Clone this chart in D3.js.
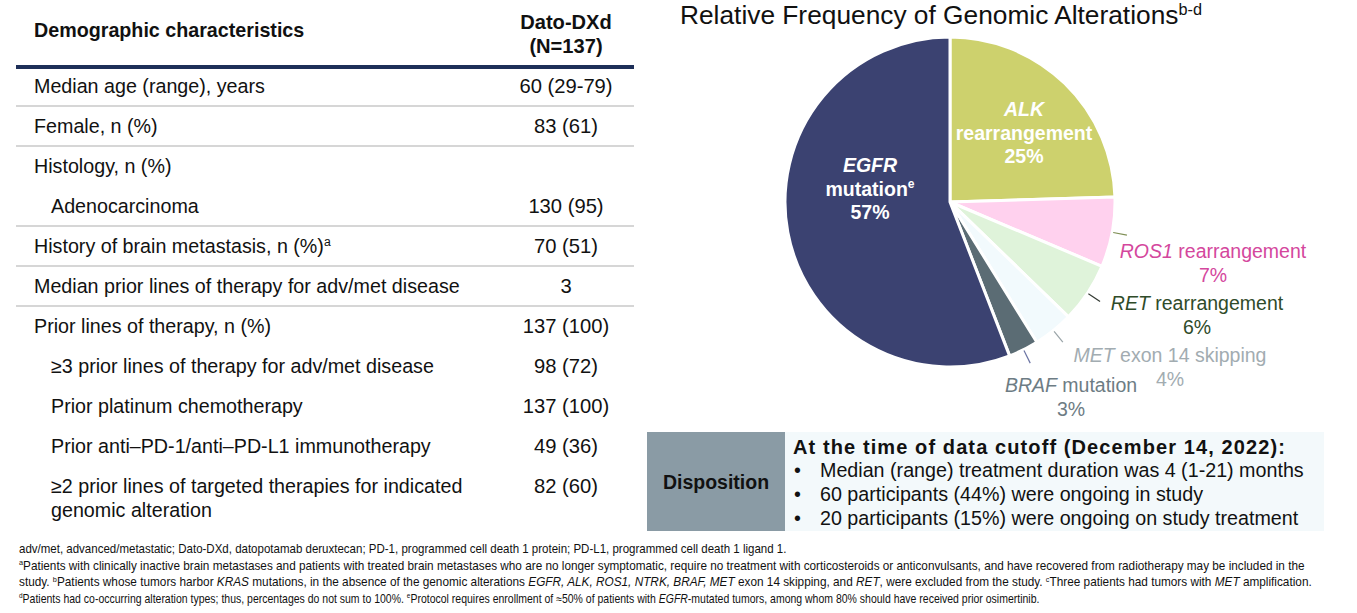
<!DOCTYPE html>
<html><head><meta charset="utf-8">
<script src="https://cdn.jsdelivr.net/npm/d3@7"></script>
<style>
body{margin:0;background:#fff;}
svg{display:block;font-family:"Liberation Sans",Arial,sans-serif;}
</style>
</head><body>
<svg id="c" width="1357" height="613"></svg>
<script>
// ---------- DATA ----------
const tableHeaderLabel = "Demographic characteristics";
const tableHeaderArm = ["Dato-DXd", "(N=137)"];
const rowLabels = [
  "Median age (range), years",
  "Female, n (%)",
  "Histology, n (%)",
  "Adenocarcinoma",
  "History of brain metastasis, n (%)^a^",
  "Median prior lines of therapy for adv/met disease",
  "Prior lines of therapy, n (%)",
  "≥3 prior lines of therapy for adv/met disease",
  "Prior platinum chemotherapy",
  "Prior anti–PD-1/anti–PD-L1 immunotherapy",
  "≥2 prior lines of targeted therapies for indicated|genomic alteration"
];
const rowValues = ["60 (29-79)", "83 (61)", "", "130 (95)", "70 (51)", "3", "137 (100)", "98 (72)", "137 (100)", "49 (36)", "82 (60)"];
const rowIndent = [0, 0, 0, 1, 0, 0, 0, 1, 1, 1, 1];
const rowRuleBelow = [1, 1, 0, 1, 1, 1, 0, 0, 0, 0, 0];

const pieTitle = "Relative Frequency of Genomic Alterations^b-d^";
const pieGenes = ["ALK", "ROS1", "RET", "MET", "BRAF", "EGFR"];
const pieDesc = ["rearrangement", "rearrangement", "rearrangement", "exon 14 skipping", "mutation", "mutation^e^"];
const pieValues = [25, 7, 6, 4, 3, 57];
const pieColors = ["#cdd16d", "#ffd1ee", "#dff3da", "#f2fafd", "#5b6c74", "#3b4271"];

const dispositionLabel = "Disposition";
const dispositionHeading = "At the time of data cutoff (December 14, 2022):";
const dispositionBullets = [
  "Median (range) treatment duration was 4 (1-21) months",
  "60 participants (44%) were ongoing in study",
  "20 participants (15%) were ongoing on study treatment"
];

const footnotes = [
  "adv/met, advanced/metastatic; Dato-DXd, datopotamab deruxtecan; PD-1, programmed cell death 1 protein; PD-L1, programmed cell death 1 ligand 1.",
  "^a^Patients with clinically inactive brain metastases and patients with treated brain metastases who are no longer symptomatic, require no treatment with corticosteroids or anticonvulsants, and have recovered from radiotherapy may be included in the",
  "study. ^b^Patients whose tumors harbor *KRAS* mutations, in the absence of the genomic alterations *EGFR, ALK, ROS1, NTRK, BRAF, MET* exon 14 skipping, and *RET*, were excluded from the study. ^c^Three patients had tumors with *MET* amplification.",
  "^d^Patients had co-occurring alteration types; thus, percentages do not sum to 100%. ^e^Protocol requires enrollment of ≈50% of patients with *EGFR*-mutated tumors, among whom 80% should have received prior osimertinib."
];

// ---------- LAYOUT ----------
const svg = d3.select("#c");

function rich(textSel, str, fs) {
  const parts = str.split(/(\*[^*]+\*|\^[^^]+\^)/).filter(s => s.length);
  let shifted = false;
  parts.forEach(p => {
    const t = textSel.append("tspan");
    if (p[0] === "^") {
      t.text(p.slice(1, -1)).attr("font-size", fs * 0.62).attr("dy", -fs * 0.36);
      shifted = true;
    } else {
      if (p[0] === "*") { t.text(p.slice(1, -1)).attr("font-style", "italic"); }
      else t.text(p);
      if (shifted) { t.attr("dy", fs * 0.36); shifted = false; }
    }
  });
  return textSel;
}

// ---- Table ----
const tbl = svg.append("g");
const tx0 = 16, tx1 = 634, labelX = 34, indentX = 51, valX = 566, fsT = 19.7;
tbl.append("text").attr("x", labelX).attr("y", 37).attr("font-size", fsT).attr("font-weight", "bold").attr("fill", "#111").text(tableHeaderLabel);
tableHeaderArm.forEach((s, i) => tbl.append("text").attr("x", valX).attr("y", 29 + i * 24).attr("text-anchor", "middle")
  .attr("font-size", fsT + 0.4).attr("font-weight", "bold").attr("fill", "#111").text(s));
tbl.append("line").attr("x1", tx0).attr("x2", tx1).attr("y1", 67).attr("y2", 67).attr("stroke", "#1d2f58").attr("stroke-width", 4);

const yRow = d3.scalePoint().domain(d3.range(rowLabels.length)).range([86, 486]);
rowLabels.forEach((lab, i) => {
  const cy = yRow(i);
  const lines = lab.split("|");
  lines.forEach((ln, k) => {
    const t = tbl.append("text").attr("x", rowIndent[i] ? indentX : labelX).attr("y", cy + 7 + k * 24)
      .attr("font-size", fsT).attr("fill", "#111");
    rich(t, ln, fsT);
  });
  if (rowValues[i]) tbl.append("text").attr("x", valX).attr("y", cy + 7).attr("text-anchor", "middle")
    .attr("font-size", fsT + 0.5).attr("fill", "#111").text(rowValues[i]);
  if (rowRuleBelow[i]) tbl.append("line").attr("x1", tx0).attr("x2", tx1).attr("y1", cy + 20).attr("y2", cy + 20)
    .attr("stroke", "#c9c9c9").attr("stroke-width", 1.5);
});

// ---- Pie ----
const ttl = svg.append("text").attr("x", 680).attr("y", 24).attr("font-size", 26.3).attr("fill", "#111");
rich(ttl, pieTitle, 26.3);

const cx = 950, cy = 202, R = 165;
const pie = d3.pie().sort(null).value(d => d).startAngle(0).endAngle(2 * Math.PI);
const arcs = pie(pieValues);
const arc = d3.arc().innerRadius(0).outerRadius(R);
const pg = svg.append("g").attr("transform", `translate(${cx},${cy})`);
pg.selectAll("path").data(arcs).join("path").attr("d", arc)
  .attr("fill", (d, i) => pieColors[i]).attr("stroke", "#fff").attr("stroke-width", 3).attr("stroke-linejoin", "round");

// inside labels (ALK, EGFR)
const insideIdx = [0, 5];
const insideOffset = {0: [74, -86], 5: [-80, -30]};
insideIdx.forEach(i => {
  const [dx, dy] = insideOffset[i];
  const lines = [`*${pieGenes[i]}*`, pieDesc[i], `${pieValues[i]}%`];
  lines.forEach((ln, k) => {
    const t = pg.append("text").attr("x", dx).attr("y", dy + k * 23.5).attr("text-anchor", "middle")
      .attr("font-size", 19.5).attr("font-weight", "bold").attr("fill", "#fff");
    rich(t, ln, 19.5);
  });
});

// outside labels
const outsideIdx = [1, 2, 3, 4];
const outColors = {1: "#d4479d", 2: "#2f4b29", 3: "#a2acb1", 4: "#6d7c84"};
const lineColors = {1: "#7f8f55", 2: "#333a33", 3: "#9aa4a8", 4: "#6a73a3"};
const outOffset = {1: [263, 56], 2: [247, 108], 3: [220, 160], 4: [121, 190]};
outsideIdx.forEach(i => {
  const a = (arcs[i].startAngle + arcs[i].endAngle) / 2;
  const p0 = [Math.sin(a) * (R + 1), -Math.cos(a) * (R + 1)];
  const p1 = [Math.sin(a) * (R + 15), -Math.cos(a) * (R + 15)];
  pg.append("line").attr("x1", p0[0]).attr("y1", p0[1]).attr("x2", p1[0]).attr("y2", p1[1])
    .attr("stroke", lineColors[i]).attr("stroke-width", 1.2);
  const [dx, dy] = outOffset[i];
  const t1 = pg.append("text").attr("x", dx).attr("y", dy).attr("text-anchor", "middle").attr("font-size", 19.5).attr("fill", outColors[i]);
  rich(t1, `*${pieGenes[i]}* ${pieDesc[i]}`, 19.5);
  pg.append("text").attr("x", dx).attr("y", dy + 24).attr("text-anchor", "middle").attr("font-size", 19.5).attr("fill", outColors[i]).text(`${pieValues[i]}%`);
});

// ---- Disposition ----
const dg = svg.append("g");
dg.append("rect").attr("x", 647).attr("y", 432).attr("width", 138).attr("height", 99).attr("fill", "#8a9ba5");
dg.append("rect").attr("x", 785).attr("y", 432).attr("width", 539).attr("height", 99).attr("fill", "#f3f9fb");
dg.append("text").attr("x", 716).attr("y", 489).attr("text-anchor", "middle").attr("font-size", 19.5).attr("font-weight", "bold").attr("fill", "#111").text(dispositionLabel);
dg.append("text").attr("x", 793).attr("y", 454).attr("font-size", 20).attr("letter-spacing", 1.1).attr("font-weight", "bold").attr("fill", "#111").text(dispositionHeading);
dispositionBullets.forEach((b, k) => {
  dg.append("text").attr("x", 794).attr("y", 477 + k * 24).attr("font-size", 19.7).attr("fill", "#111").text("•");
  dg.append("text").attr("x", 820).attr("y", 477 + k * 24).attr("font-size", 19.7).attr("fill", "#111").text(b);
});

// ---- Footnotes (horizontally condensed to the reference widths) ----
const fnWidths = [768, 1287, 1294, 1021];
footnotes.forEach((f, k) => {
  const t = svg.append("text").attr("x", 0).attr("y", 0).attr("font-size", 12)
    .attr("font-family", "'Liberation Sans Narrow','Liberation Sans',Arial,sans-serif").attr("fill", "#111");
  rich(t, f, 12);
  const natural = t.node().getComputedTextLength();
  t.attr("transform", `translate(19,${553 + k * 16.5}) scale(${fnWidths[k] / natural},1)`);
});
</script>
</body></html>
